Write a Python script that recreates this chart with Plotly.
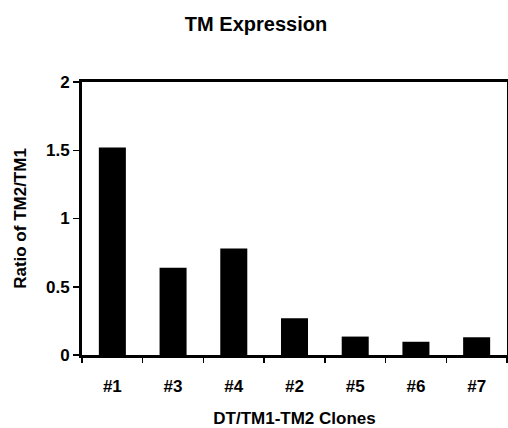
import plotly.graph_objects as go

clones = ["#1", "#3", "#4", "#2", "#5", "#6", "#7"]
ratios = [1.52, 0.64, 0.78, 0.27, 0.135, 0.097, 0.13]
y_ticks = [0, 0.5, 1, 1.5, 2]
y_tick_labels = ["0", "0.5", "1", "1.5", "2"]

font_family = "Liberation Sans, Arial, sans-serif"
W, H = 508, 428

fig = go.Figure(
    go.Bar(x=clones, y=ratios, marker=dict(color="black", line=dict(width=0)))
)

fig.update_layout(
    template="none",
    width=W,
    height=H,
    margin=dict(l=82, r=1, t=82, b=73, pad=0),
    paper_bgcolor="white",
    plot_bgcolor="white",
    bargap=0.555,
    showlegend=False,
    font=dict(family=font_family, size=17, color="black", weight="bold"),
    title=dict(
        text="TM Expression",
        x=(256) / W,
        xanchor="center",
        xref="container",
        y=1 - 23.5 / H,
        yanchor="middle",
        yref="container",
        font=dict(family=font_family, size=20, color="black", weight="bold"),
    ),
)

fig.update_xaxes(
    type="category",
    range=[-0.5, 6.5],
    automargin=False,
    showline=True,
    linecolor="black",
    linewidth=3,
    mirror=True,
    ticks="outside",
    tickson="boundaries",
    ticklen=5,
    tickwidth=1.5,
    tickcolor="black",
    showgrid=False,
    zeroline=False,
    ticklabelstandoff=14,
    tickfont=dict(family=font_family, size=17, weight="bold"),
    title=dict(text="DT/TM1-TM2 Clones", font=dict(family=font_family, size=17, weight="bold"), standoff=18),
)

fig.update_yaxes(
    range=[0, 2],
    automargin=False,
    tickvals=y_ticks,
    ticktext=y_tick_labels,
    showline=True,
    linecolor="black",
    linewidth=3,
    mirror=True,
    ticks="outside",
    ticklen=6,
    tickwidth=1.5,
    tickcolor="black",
    showgrid=False,
    zeroline=False,
    tickfont=dict(family=font_family, size=17, weight="bold"),
    title=dict(text="Ratio of TM2/TM1", font=dict(family=font_family, size=17, weight="bold"), standoff=16),
)

fig.write_html(
    "out.html",
    config={"displayModeBar": False, "staticPlot": True},
    post_script="document.body.style.margin='0';document.body.style.overflow='hidden';",
)
